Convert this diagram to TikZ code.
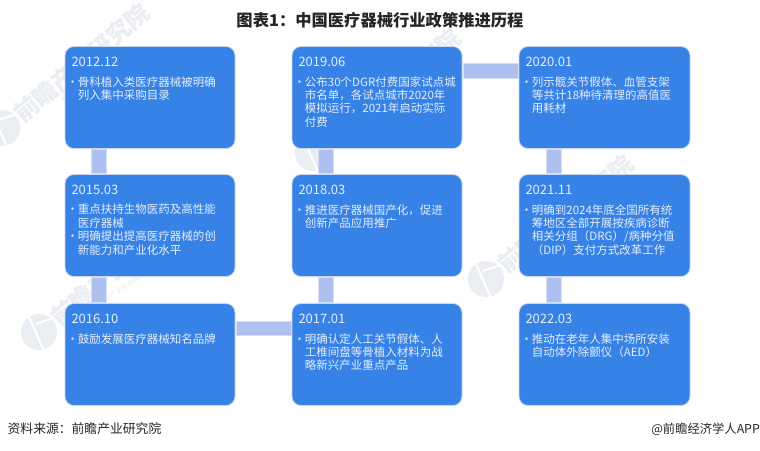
\documentclass[tikz,border=0pt]{standalone}
\usepackage{fontspec}
\usetikzlibrary{calc}
\newfontfamily\cjk{Noto Sans CJK SC}
\definecolor{cardblue}{HTML}{3682E6}
\definecolor{cardedge}{HTML}{C9D6F2}
\definecolor{linkblue}{HTML}{ADC0F0}
\definecolor{linkedge}{HTML}{D5DEF6}
\definecolor{cardtext}{HTML}{E6EEFB}
\definecolor{wmgray}{HTML}{EAEDF1}
\newcommand{\bul}{\leavevmode\llap{•\hspace{-0.4pt}}}
\newcommand{\cardat}[6]{%
  \node[cardbox,minimum width=#6pt] (#1) at (#2,#3) {};
  \node[datelabel] (#1d) at ($(#1.north west)+(6.3,15)$) {#4};
  \node[bodylabel] (#1b) at ($(#1.north west)+(12.7,29.6)$) {#5};
}
\newcommand{\wmark}[2]{%
  \fill[wm] (#1,#2) circle (18);
  \draw[wmcut] (#1-10,#2-15) -- (#1+5,#2+19);
  \draw[wmcut] (#1-3,#2-8) -- (#1+14,#2-14);
  \node[wmtext] at (#1+80,#2-65) {前瞻产业研究院};
  \node[wmsmall] at (#1+85,#2-45) {中国产业咨询领导者};
}
\tikzset{
  cardbox/.style={draw=cardedge,line width=0.8pt,fill=cardblue,rounded corners=9pt,anchor=north west,minimum height=102pt,inner sep=0pt,outer sep=0pt},
  datelabel/.style={anchor=west,inner sep=0pt,text=cardtext,font=\cjk\fontsize{13}{14}\selectfont},
  bodylabel/.style={anchor=north west,inner sep=0pt,align=left,text=cardtext,font=\cjk\fontsize{11.5}{13.4}\selectfont},
  linkbar/.style={draw=linkedge,line width=0.8pt,fill=linkblue},
  wm/.style={fill=wmgray},
  wmcut/.style={draw=white,line width=2.2pt},
  wmtext/.style={text=wmgray,rotate=40,font=\cjk\bfseries\fontsize{24}{25}\selectfont,inner sep=0pt},
  wmsmall/.style={text=wmgray,rotate=33,font=\cjk\fontsize{7}{8}\selectfont,inner sep=0pt},
  titlelabel/.style={inner sep=0pt,text=black!85,font=\cjk\bfseries\fontsize{16.3}{18}\selectfont},
  footlabel/.style={inner sep=0pt,text=black!85,font=\cjk\fontsize{12.8}{14}\selectfont},
}
\begin{document}
\begin{tikzpicture}[x=1pt,y=-1pt]
\useasboundingbox (0,0) rectangle (760,450);
\fill[white] (0,0) rectangle (760,450);
\wmark{2}{128}\wmark{313}{153}\wmark{39}{332}\wmark{486}{279}

\node[titlelabel] (title) at (380,20.5) {图表1：中国医疗器械行业政策推进历程};

\cardat{a}{65}{46.5}{2012.12}{\bul 骨科植入类医疗器械被明确\\列入集中采购目录}{170}
\cardat{b}{65}{174.5}{2015.03}{\bul 重点扶持生物医药及高性能\\医疗器械\\\bul 明确提出提高医疗器械的创\\新能力和产业化水平}{170}
\cardat{c}{65}{303.5}{2016.10}{\bul 鼓励发展医疗器械知名品牌}{170}
\cardat{d}{292}{303.5}{2017.01}{\bul 明确认定人工关节假体、人\\工椎间盘等骨植入材料为战\\略新兴产业重点产品}{170}
\cardat{e}{292}{174.5}{2018.03}{\bul 推进医疗器械国产化，促进\\创新产品应用推广}{170}
\cardat{f}{292}{46.5}{2019.06}{\bul 公布30个DGR付费国家试点城\\市名单，各试点城市2020年\\模拟运行，2021年启动实际\\付费}{170}
\cardat{g}{519}{46.5}{2020.01}{\bul 列示髋关节假体、血管支架\\等共计18种待清理的高值医\\用耗材}{171}
\cardat{h}{519}{174.5}{2021.11}{\bul 明确到2024年底全国所有统\\筹地区全部开展按疾病诊断\\相关分组（DRG）/病种分值\\（DIP）支付方式改革工作}{171}
\cardat{i}{519}{303.5}{2022.03}{\bul 推动在老年人集中场所安装\\自动体外除颤仪（AED）}{171}

\draw[linkbar] ($(a.south west)+(26,1)$) rectangle ($(b.north west)+(41,-1)$);
\draw[linkbar] ($(b.south west)+(26,1)$) rectangle ($(c.north west)+(41,-1)$);
\draw[linkbar] ($(c.north east)+(1,17.5)$) rectangle ($(d.north west)+(-1,32)$);
\draw[linkbar] ($(e.south west)+(26,1)$) rectangle ($(d.north west)+(41,-1)$);
\draw[linkbar] ($(f.south west)+(26,1)$) rectangle ($(e.north west)+(41,-1)$);
\draw[linkbar] ($(f.north east)+(1,17)$) rectangle ($(g.north west)+(-1,32)$);
\draw[linkbar] ($(g.south west)+(27,1)$) rectangle ($(h.north west)+(42,-1)$);
\draw[linkbar] ($(h.south west)+(27,1)$) rectangle ($(i.north west)+(42,-1)$);

\node[footlabel,anchor=west] (src) at (7.5,429) {资料来源：前瞻产业研究院};
\node[footlabel,anchor=east,font=\cjk\fontsize{12.3}{14}\selectfont] (brand) at (760,429) {@前瞻经济学人APP};
\end{tikzpicture}
\end{document}
